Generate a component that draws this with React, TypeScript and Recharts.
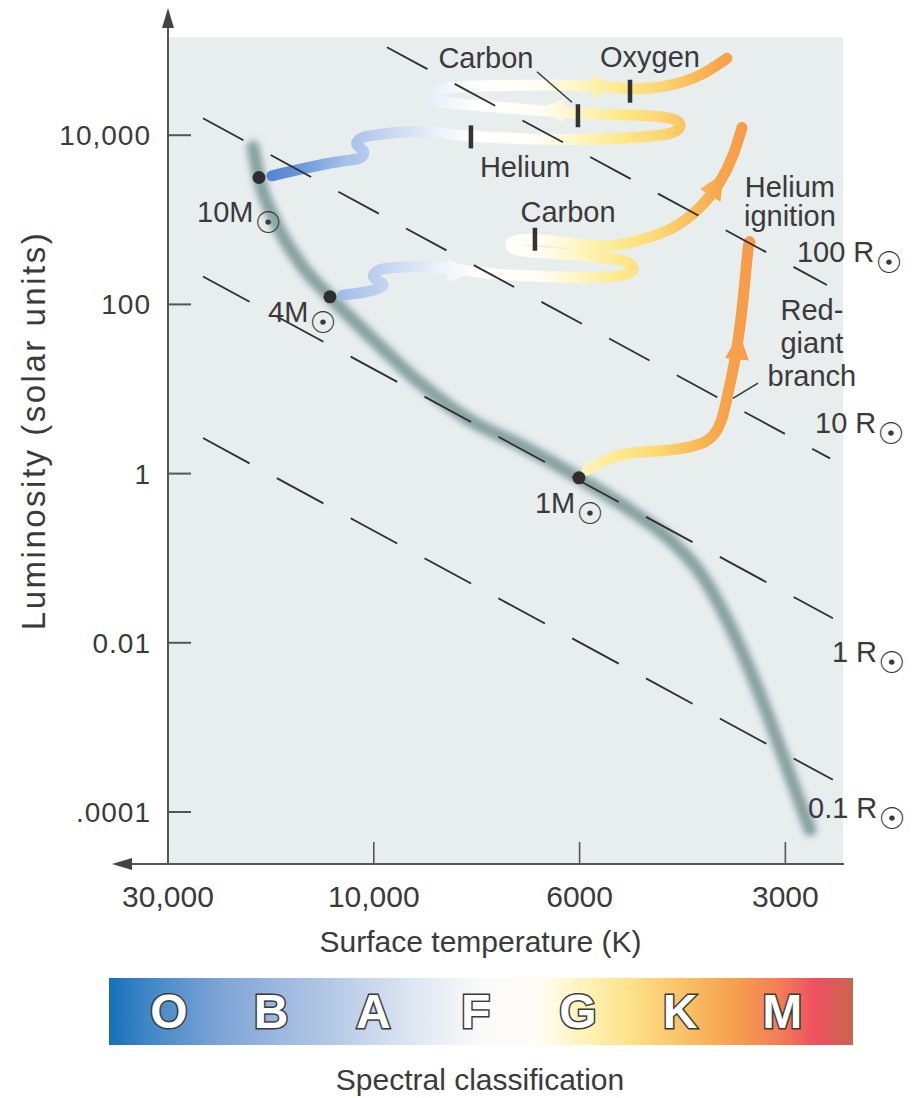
import React from "react";
import { ComposedChart, Line, Scatter, XAxis, YAxis, CartesianGrid, ReferenceLine } from "recharts";

// x = spectral position (0 = 30,000 K, 1 = 10,000 K, 2 = 6000 K, 3 = 3000 K)
// y = log10 of luminosity in solar units
const tempTicks = [0, 1, 2, 3];
const tempLabels = ["30,000", "10,000", "6000", "3000"];
const lumTicks = [4, 2, 0, -2, -4];
const lumLabels = ["10,000", "100", "1", "0.01", ".0001"];

const mainSequence = [
  { x: 0.413, y: 3.86 }, { x: 0.442, y: 3.5 }, { x: 0.52, y: 2.99 }, { x: 0.641, y: 2.49 },
  { x: 0.787, y: 2.09 }, { x: 0.982, y: 1.62 }, { x: 1.225, y: 1.07 }, { x: 1.468, y: 0.63 },
  { x: 1.711, y: 0.34 }, { x: 1.997, y: -0.05 }, { x: 2.245, y: -0.43 }, { x: 2.439, y: -0.78 },
  { x: 2.585, y: -1.17 }, { x: 2.779, y: -2.05 }, { x: 2.911, y: -2.83 }, { x: 3.008, y: -3.47 },
  { x: 3.12, y: -4.21 },
];

// lines of constant radius
const radius100 = [{ x: 1.064, y: 5.04 }, { x: 3.202, y: 2.23 }];
const radius10 = [{ x: 0.17, y: 4.2 }, { x: 3.217, y: 0.18 }];
const radius1 = [{ x: 0.17, y: 2.33 }, { x: 3.231, y: -1.71 }];
const radius01 = [{ x: 0.17, y: 0.42 }, { x: 3.231, y: -3.62 }];

const track10 = [
  { x: 0.505, y: 3.52 }, { x: 0.666, y: 3.61 }, { x: 0.836, y: 3.69 }, { x: 0.933, y: 3.73 },
  { x: 0.948, y: 3.82 }, { x: 0.918, y: 3.89 }, { x: 0.943, y: 3.97 }, { x: 1.03, y: 4.01 },
  { x: 1.176, y: 4.04 }, { x: 1.322, y: 4.03 }, { x: 1.467, y: 3.99 }, { x: 1.905, y: 3.95 },
  { x: 2.293, y: 3.98 }, { x: 2.449, y: 4.03 }, { x: 2.488, y: 4.11 }, { x: 2.439, y: 4.2 },
  { x: 2.245, y: 4.24 }, { x: 1.992, y: 4.26 }, { x: 1.71, y: 4.31 }, { x: 1.419, y: 4.37 },
  { x: 1.283, y: 4.43 }, { x: 1.312, y: 4.53 }, { x: 1.467, y: 4.58 }, { x: 1.808, y: 4.59 },
  { x: 2.099, y: 4.58 }, { x: 2.245, y: 4.55 }, { x: 2.415, y: 4.58 }, { x: 2.585, y: 4.71 },
  { x: 2.716, y: 4.91 },
];
const track4 = [
  { x: 0.85, y: 2.11 }, { x: 0.967, y: 2.15 }, { x: 1.045, y: 2.23 }, { x: 1.001, y: 2.32 },
  { x: 1.03, y: 2.41 }, { x: 1.127, y: 2.44 }, { x: 1.322, y: 2.44 }, { x: 1.55, y: 2.37 },
  { x: 1.939, y: 2.32 }, { x: 2.196, y: 2.34 }, { x: 2.259, y: 2.43 }, { x: 2.206, y: 2.52 },
  { x: 2.051, y: 2.57 }, { x: 1.774, y: 2.62 }, { x: 1.672, y: 2.67 }, { x: 1.686, y: 2.75 },
  { x: 1.832, y: 2.76 }, { x: 2.099, y: 2.69 }, { x: 2.293, y: 2.76 }, { x: 2.449, y: 2.9 },
  { x: 2.585, y: 3.15 }, { x: 2.682, y: 3.45 }, { x: 2.745, y: 3.76 }, { x: 2.789, y: 4.09 },
];
const track1 = [
  { x: 2.036, y: 0.04 }, { x: 2.196, y: 0.22 }, { x: 2.391, y: 0.27 }, { x: 2.54, y: 0.32 },
  { x: 2.625, y: 0.4 }, { x: 2.675, y: 0.55 }, { x: 2.703, y: 0.75 }, { x: 2.721, y: 0.95 },
  { x: 2.745, y: 1.22 }, { x: 2.77, y: 1.58 }, { x: 2.794, y: 2.05 }, { x: 2.818, y: 2.64 },
  { x: 2.828, y: 2.73 },
];

const arrowHeads = [
  { x: 1.409, y: 2.39, angle: 3 },
  { x: 1.871, y: 4.3, angle: 182 },
  { x: 2.114, y: 4.58, angle: 0 },
  { x: 2.663, y: 3.4, angle: -58 },
  { x: 2.77, y: 1.48, angle: -84 },
];

const starDots = [{ x: 0.442, y: 3.5 }, { x: 0.787, y: 2.09 }, { x: 1.997, y: -0.05 }];
const massLabels = [
  { x: 0.141, y: 2.97, text: "10M" },
  { x: 0.486, y: 1.79, text: "4M" },
  { x: 1.783, y: -0.47, text: "1M" },
];
const radiusLabels = [
  { x: 3.056, y: 2.5, text: "100 R" },
  { x: 3.144, y: 0.48, text: "10 R" },
  { x: 3.226, y: -2.23, text: "1 R" },
  { x: 3.11, y: -4.07, text: "0.1 R" },
];
const burnMarks = [
  { x: 1.472, y: 3.98 }, { x: 1.992, y: 4.23 }, { x: 2.245, y: 4.52 }, { x: 1.783, y: 2.77 },
];
const notes = [
  { x: 1.545, y: 4.79, lines: ["Carbon"] },
  { x: 2.342, y: 4.81, lines: ["Oxygen"] },
  { x: 1.735, y: 3.51, lines: ["Helium"] },
  { x: 1.944, y: 2.97, lines: ["Carbon"] },
  { x: 3.022, y: 3.27, lines: ["Helium", "ignition"] },
  { x: 3.129, y: 1.81, lines: ["Red-", "giant", "branch"] },
];
const leaderCarbon = [{ x: 1.793, y: 4.75 }, { x: 1.963, y: 4.39 }];
const leaderBranch = [{ x: 2.867, y: 1.07 }, { x: 2.745, y: 0.89 }];

const spectralClasses = ["O", "B", "A", "F", "G", "K", "M"];

const INK = "#3a3a3a";
const FONT = "'Liberation Sans', Arial, Helvetica, sans-serif";

function YTick(props: any) {
  const { x, y, payload } = props;
  const label = lumLabels[lumTicks.indexOf(payload.value)];
  return (
    <g>
      <line x1={x} x2={x + 23} y1={y} y2={y} stroke="#555" strokeWidth={2} />
      <text x={x - 17} y={y + 10} textAnchor="end" fontSize={28} letterSpacing={1} fill={INK} fontFamily={FONT}>
        {label}
      </text>
    </g>
  );
}

function XTick(props: any) {
  const { x, y, payload } = props;
  const label = tempLabels[tempTicks.indexOf(payload.value)];
  return (
    <g>
      <line x1={x} x2={x} y1={y - 22} y2={y} stroke="#555" strokeWidth={1.6} />
      <text x={x} y={y + 43} textAnchor="middle" fontSize={30} fill={INK} fontFamily={FONT}>
        {label}
      </text>
    </g>
  );
}

function AxisArrow(props: any) {
  const { x1, y1, x2, y2 } = props;
  const len = Math.hypot(x2 - x1, y2 - y1);
  const ux = (x2 - x1) / len;
  const uy = (y2 - y1) / len;
  const bx = x2 - ux * 20;
  const by = y2 - uy * 20;
  return (
    <g>
      <line x1={x1} y1={y1} x2={bx} y2={by} stroke="#555" strokeWidth={2} />
      <polygon points={`${x2},${y2} ${bx - uy * 6},${by + ux * 6} ${bx + uy * 6},${by - ux * 6}`} fill="#444" />
    </g>
  );
}

function ArrowHead(props: any) {
  const { cx, cy, payload } = props;
  const a = (payload.angle * Math.PI) / 180;
  const pts = [[15, 0], [-11, 12], [-11, -12]].map(([u, v]) => [
    cx + u * Math.cos(a) - v * Math.sin(a),
    cy + u * Math.sin(a) + v * Math.cos(a),
  ]);
  return <polygon points={pts.map((p) => p.join(",")).join(" ")} fill="url(#trackGrad)" />;
}

function SunLabel(props: any) {
  const { cx, cy, payload } = props;
  return (
    <text x={cx} y={cy} fontSize={29} fill={INK} fontFamily={FONT}>
      {payload.text}
      <tspan fontFamily="'DejaVu Sans'" fontSize={30} dx={1} dy={11}>☉</tspan>
    </text>
  );
}

function NoteLabel(props: any) {
  const { cx, cy, payload } = props;
  return (
    <text x={cx} y={cy} fontSize={29} fill={INK} fontFamily={FONT} textAnchor="middle">
      {payload.lines.map((s: string, k: number) => (
        <tspan key={k} x={cx} dy={k === 0 ? 0 : payload.lines.length > 2 ? 33 : 29}>
          {s}
        </tspan>
      ))}
    </text>
  );
}

export default function App() {
  const dashed = { stroke: "#2e2e2e", strokeWidth: 1.8, dot: false, activeDot: false, isAnimationActive: false, type: "linear" as const };
  const track = { stroke: "url(#trackGrad)", strokeWidth: 11, strokeLinecap: "round" as const, strokeLinejoin: "round" as const, dot: false, activeDot: false, isAnimationActive: false, type: "natural" as const };
  return (
    <div style={{ position: "absolute", left: 0, top: 0, width: 917, height: 1098, background: "#fff" }}>
      <ComposedChart width={917} height={970} margin={{ top: 37, right: 74, bottom: 6, left: 0 }}>
        <defs>
          <linearGradient id="trackGrad" gradientUnits="userSpaceOnUse" x1={168} y1={0} x2={843} y2={0}>
            <stop offset="0.136" stopColor="#4a7fd0" />
            <stop offset="0.196" stopColor="#6a98dc" />
            <stop offset="0.262" stopColor="#a5bfe9" />
            <stop offset="0.344" stopColor="#cfdcf3" />
            <stop offset="0.403" stopColor="#eef2fa" />
            <stop offset="0.462" stopColor="#ffffff" />
            <stop offset="0.551" stopColor="#fffdf3" />
            <stop offset="0.61" stopColor="#fef5c0" />
            <stop offset="0.67" stopColor="#fde98a" />
            <stop offset="0.73" stopColor="#fcd672" />
            <stop offset="0.773" stopColor="#f9bf5c" />
            <stop offset="0.818" stopColor="#f7a54b" />
            <stop offset="0.877" stopColor="#f5984a" />
          </linearGradient>
          <filter id="msBlur" x="-10%" y="-10%" width="120%" height="120%">
            <feGaussianBlur stdDeviation={3.2} />
          </filter>
        </defs>
        <CartesianGrid fill="#e8edee" horizontal={false} vertical={false} stroke="none" />
        <XAxis
          type="number"
          dataKey="x"
          domain={[0, 3.28]}
          ticks={tempTicks}
          interval={0}
          axisLine={false}
          tickLine={false}
          tickSize={0}
          tickMargin={0}
          height={100}
          tick={(p: any) => <XTick {...p} />}
          label={{
            content: (p: any) => (
              <text x={p.viewBox.x + p.viewBox.width / 2 - 25} y={p.viewBox.y + 88} textAnchor="middle" fontSize={30} fill={INK} fontFamily={FONT}>
                Surface temperature (K)
              </text>
            ),
          }}
        />
        <YAxis
          type="number"
          dataKey="y"
          domain={[-4.615, 5.161]}
          ticks={lumTicks}
          interval={0}
          axisLine={false}
          tickLine={false}
          tickSize={0}
          tickMargin={0}
          width={168}
          tick={(p: any) => <YTick {...p} />}
          label={{
            content: (p: any) => {
              const cx = p.viewBox.x + 33;
              const cy = p.viewBox.y + p.viewBox.height / 2 - 20;
              return (
                <text x={cx} y={cy} transform={`rotate(-90, ${cx}, ${cy})`} textAnchor="middle" dominantBaseline="central" fontSize={33} letterSpacing={2.5} fill={INK} fontFamily={FONT}>
                  Luminosity (solar units)
                </text>
              );
            },
          }}
        />

        <Line data={mainSequence} dataKey="y" stroke="#87a3a1" strokeWidth={13} strokeLinecap="round" filter="url(#msBlur)" dot={false} activeDot={false} isAnimationActive={false} type="monotone" />

        <Line data={track10} dataKey="y" {...track} />
        <Line data={track4} dataKey="y" {...track} />
        <Line data={track1} dataKey="y" {...track} />

        <Line data={radius100} dataKey="y" strokeDasharray="46 31" {...dashed} />
        <Line data={radius10} dataKey="y" strokeDasharray="46 31" {...dashed} />
        <Line data={radius1} dataKey="y" strokeDasharray="53 31" {...dashed} />
        <Line data={radius01} dataKey="y" strokeDasharray="53 31" {...dashed} />

        <Line data={leaderCarbon} dataKey="y" stroke="#333" strokeWidth={1.4} dot={false} activeDot={false} isAnimationActive={false} type="linear" />
        <Line data={leaderBranch} dataKey="y" stroke="#333" strokeWidth={1.4} dot={false} activeDot={false} isAnimationActive={false} type="linear" />

        <Scatter data={arrowHeads} dataKey="y" isAnimationActive={false} shape={(p: any) => <ArrowHead {...p} />} />
        <Scatter
          data={burnMarks}
          dataKey="y"
          isAnimationActive={false}
          shape={(p: any) => <rect x={p.cx - 2.25} y={p.cy - 11.5} width={4.5} height={23} fill="#333" />}
        />
        <Scatter data={starDots} dataKey="y" isAnimationActive={false} shape={(p: any) => <circle cx={p.cx} cy={p.cy} r={6.5} fill="#2e2e2e" />} />
        <Scatter data={massLabels} dataKey="y" isAnimationActive={false} shape={(p: any) => <SunLabel {...p} />} />
        <Scatter data={radiusLabels} dataKey="y" isAnimationActive={false} shape={(p: any) => <SunLabel {...p} />} />
        <Scatter data={notes} dataKey="y" isAnimationActive={false} shape={(p: any) => <NoteLabel {...p} />} />

        <ReferenceLine segment={[{ x: 3.285, y: -4.615 }, { x: -0.272, y: -4.615 }]} ifOverflow="visible" shape={(p: any) => <AxisArrow {...p} />} />
        <ReferenceLine segment={[{ x: 0, y: -4.615 }, { x: 0, y: 5.503 }]} ifOverflow="visible" shape={(p: any) => <AxisArrow {...p} />} />
      </ComposedChart>

      <svg width={917} height={120} style={{ position: "absolute", left: 0, top: 978 }}>
        <defs>
          <linearGradient id="specGrad" x1="0" y1="0" x2="1" y2="0">
            <stop offset="0" stopColor="#1570b8" />
            <stop offset="0.05" stopColor="#3f86c6" />
            <stop offset="0.15" stopColor="#7ea4d6" />
            <stop offset="0.3" stopColor="#b5c9e6" />
            <stop offset="0.42" stopColor="#e2e9f4" />
            <stop offset="0.5" stopColor="#fafafa" />
            <stop offset="0.58" stopColor="#fefcf4" />
            <stop offset="0.64" stopColor="#fef3b8" />
            <stop offset="0.7" stopColor="#fde28a" />
            <stop offset="0.78" stopColor="#f9be62" />
            <stop offset="0.84" stopColor="#f6a04e" />
            <stop offset="0.9" stopColor="#f47e55" />
            <stop offset="0.95" stopColor="#ee5060" />
            <stop offset="1" stopColor="#c8664e" />
          </linearGradient>
        </defs>
        <rect x={109} y={0} width={744} height={67} fill="url(#specGrad)" />
        {spectralClasses.map((c, k) => (
          <text
            key={c}
            x={169 + k * 102.2}
            y={50}
            textAnchor="middle"
            fontSize={48}
            fontWeight={700}
            fontFamily={FONT}
            fill="#fff"
            stroke="#3a3a3a"
            strokeWidth={3}
            paintOrder="stroke"
          >
            {c}
          </text>
        ))}
        <text x={480} y={112} textAnchor="middle" fontSize={30} fill={INK} fontFamily={FONT}>
          Spectral classification
        </text>
      </svg>
    </div>
  );
}
